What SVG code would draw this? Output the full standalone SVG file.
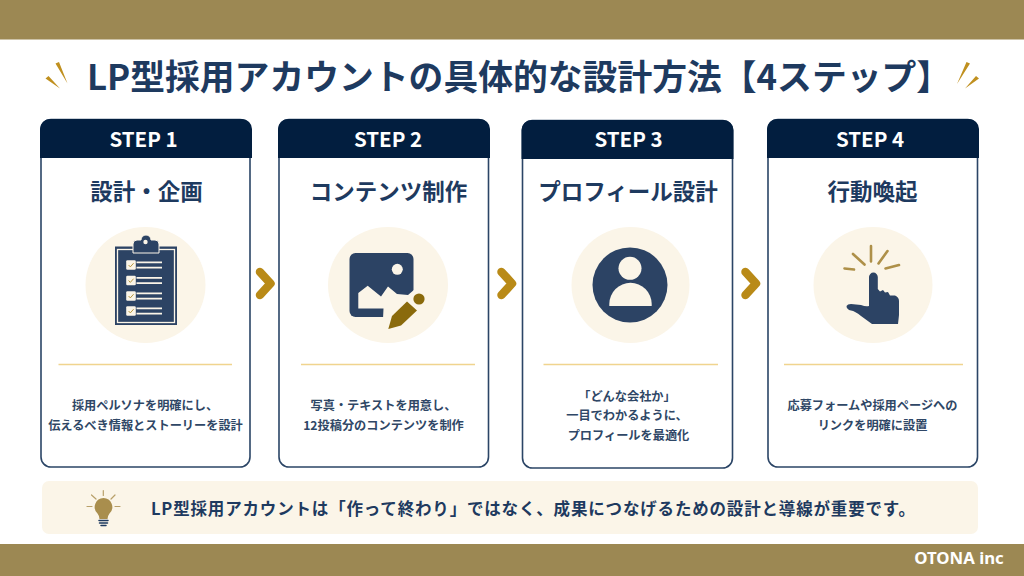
<svg xmlns="http://www.w3.org/2000/svg" width="1024" height="576" viewBox="0 0 1024 576">
<style>
text{font-family:"Noto Sans CJK JP","Noto Sans",sans-serif;text-anchor:middle}
.band{fill:#9c8853}
.title{font-size:34.8px;font-weight:700;fill:#1e3a5f}
.card{fill:#fff;stroke:#2b4566;stroke-width:1.6}
.head{fill:#021e3f}
.step{font-size:20.5px;font-weight:700;fill:#fff}
.name{font-size:22.5px;font-weight:700;fill:#1e3a5f}
.disc{fill:#fbf5e8}
.rule{stroke:#f0d48e;stroke-width:1.3}
.body{font-size:12.2px;font-weight:700;fill:#2f4766}
.ink{fill:#2c4364}
.gold{fill:#c0901f}
.chev{fill:none;stroke:#b98a17;stroke-width:8.500;stroke-linejoin:round;stroke-linecap:round}
.ray{stroke:#ae9049;stroke-width:2.6;stroke-linecap:round;fill:none}
.cream{fill:#fbf5e8}
.ln{stroke:#fbf5e8;stroke-width:1.8}
.tick{fill:none;stroke:#b8973f;stroke-width:1}
</style>
<defs>
<g id="row">
<rect x="-4.8" y="-4.8" width="9.6" height="9.6" rx="1.2" class="cream"/>
<path d="M-2.4 0L-.7 1.9L2.6-1.8" class="tick"/>
<path d="M5.500-2.6H31M5.500 2.6H31" class="ln"/>
</g>
</defs>
<g id="frame">
<rect class="band" width="1024" height="39.5"/>
<rect class="band" y="544" width="1024" height="32"/>
<text x="959" y="564" style="font-family:'Noto Sans',sans-serif;font-size:16.8px;font-weight:700;fill:#fff">OTONA inc</text>
</g>
<g id="title">
<text class="title" x="519" y="89.500">LP型採用アカウントの具体的な設計方法【4ステップ】</text>
<path class="gold" d="M55.500 63.500L59 62L67.500 83.500ZM45.500 78.500L48.500 76L60 88.500Z"/>
<path class="gold" d="M966.500 62L970 63.500L957 84ZM976 76L979 78.500L965 88.500Z"/>
</g>
<g id="step1">
<rect class="card" x="41" y="119.500" width="209" height="347.500" rx="10"/>
<path class="head" d="M40 158V129a10 10 0 0 1 10-10H242a10 10 0 0 1 10 10V158Z"/>
<text class="step" x="143.500" y="147">STEP 1</text>
<text class="name" x="146.500" y="200">設計・企画</text>
<ellipse class="disc" cx="145.500" cy="285" rx="60" ry="58"/>
<rect class="ink" x="115" y="246.500" width="62" height="78.500"/>
<rect x="117.500" y="249.500" width="57" height="73" fill="none" stroke="#fbf5e8" stroke-width="1.3"/>
<path class="ink" d="M133 253V244a4 4 0 0 1 4-4h4a5 5 0 0 1 10 0h4a4 4 0 0 1 4 4V253Z" stroke="#fbf5e8" stroke-width="1"/>
<circle class="cream" cx="145.500" cy="242" r="2.200"/>
<use href="#row" x="131" y="265"/>
<use href="#row" x="131" y="280.500"/>
<use href="#row" x="131" y="296"/>
<use href="#row" x="131" y="311"/>
<path class="rule" d="M58.500 364.500H232"/>
<text class="body" x="145" y="410">採用ペルソナを明確にし、</text>
<text class="body" x="145.500" y="430">伝えるべき情報とストーリーを設計</text>
</g>
<g id="step2">
<rect class="card" x="279" y="119.500" width="209.500" height="347.500" rx="10"/>
<path class="head" d="M278 158V129a10 10 0 0 1 10-10H480a10 10 0 0 1 10 10V158Z"/>
<text class="step" x="388" y="147">STEP 2</text>
<text class="name" x="388.500" y="200">コンテンツ制作</text>
<ellipse class="disc" cx="388" cy="285" rx="60" ry="58"/>
<rect class="ink" x="349.500" y="253" width="64" height="64" rx="6"/>
<circle class="cream" cx="397.300" cy="269.300" r="5.500"/>
<path class="cream" d="M358.300 308.500V293L367.700 285.700L381 296.500L388 286.500L397 294L408 295L415 289V319H383L383.500 308.500Z"/>
<path fill="#8a6a0c" d="M388.300 329L392 316L407 301.500L417 310.500L401 325.500Z"/>
<circle fill="#8a6a0c" cx="419" cy="299" r="5.600"/>
<path class="rule" d="M301 364.500H475"/>
<text class="body" x="383.500" y="410">写真・テキストを用意し、</text>
<text class="body" x="383.500" y="430">12投稿分のコンテンツを制作</text>
</g>
<g id="step3">
<rect class="card" x="522.500" y="120.500" width="210" height="347.500" rx="10"/>
<path class="head" d="M521.500 159V130a10 10 0 0 1 10-10H723.500a10 10 0 0 1 10 10V159Z"/>
<text class="step" x="628.500" y="147">STEP 3</text>
<text class="name" x="628" y="200">プロフィール設計</text>
<ellipse class="disc" cx="630.500" cy="285" rx="59" ry="58"/>
<circle class="ink" cx="630" cy="285" r="37.500"/>
<circle class="cream" cx="630" cy="268.300" r="11.500"/>
<path class="cream" d="M609.300 306V304a21.200 21.200 0 0 1 42.400 0V306Z"/>
<path class="rule" d="M543.500 364.500H718"/>
<text class="body" x="627" y="401">「どんな会社か」</text>
<text class="body" x="627" y="420">一目でわかるように、</text>
<text class="body" x="628.500" y="440">プロフィールを最適化</text>
</g>
<g id="step4">
<rect class="card" x="768" y="119.500" width="209.500" height="347.500" rx="10"/>
<path class="head" d="M767 158V129a10 10 0 0 1 10-10H969a10 10 0 0 1 10 10V158Z"/>
<text class="step" x="870" y="147">STEP 4</text>
<text class="name" x="872.500" y="200">行動喚起</text>
<ellipse class="disc" cx="873" cy="285" rx="59.500" ry="58"/>
<path class="ink" d="M869 277a4.400 4.400 0 0 1 8.800 0V289L880 291.500L883 290L885 292.500L888 292L890 295.500L895 295.500Q899 297 899 301V315L898 324H872L861 316Q855 311 851 310.500L849 310Q846 308 846.500 306Q847.500 304 851 304L861 305Q866 307 869 306Z"/>
<path class="ray" d="M871 246V261.500M887.500 251L878.500 263.500M899 265L885.500 268.500M854 269.500L844.500 268.500M853 254L864.500 264.500"/>
<path class="rule" d="M784 364.500H963"/>
<text class="body" x="872.500" y="410">応募フォームや採用ページへの</text>
<text class="body" x="872.500" y="430">リンクを明確に設置</text>
</g>
<g id="connectors">
<path class="chev" d="M260 272L270.500 283.500L260 295"/>
<path class="chev" d="M501.500 272L512 283.500L501.500 295"/>
<path class="chev" d="M745.500 272L756 283.500L745.500 295"/>
</g>
<g id="note">
<rect x="42" y="481" width="936" height="53" rx="7" class="disc"/>
<path fill="#a98e4d" d="M103.500 498a9 9 0 0 1 6 15.500q-2 2.500-2 5.500h-8q0-3-2-5.500a9 9 0 0 1 6-15.500Z"/>
<path stroke="#1e3a5f" stroke-width="1.500" stroke-linecap="round" d="M99 520.500H108M99.500 523H107.500M101 525.500H106"/>
<path stroke="#b8a06a" stroke-width="1.200" stroke-linecap="round" d="M103.300 490.500V495.500M91.500 495L96 499M115 495L111 499M87 506.500H92M115 506.500H120"/>
<text x="533" y="515" font-size="16.500" font-weight="700" fill="#1e3a5f" textLength="764" lengthAdjust="spacing">LP型採用アカウントは「作って終わり」ではなく、成果につなげるための設計と導線が重要です。</text>
</g>
</svg>
